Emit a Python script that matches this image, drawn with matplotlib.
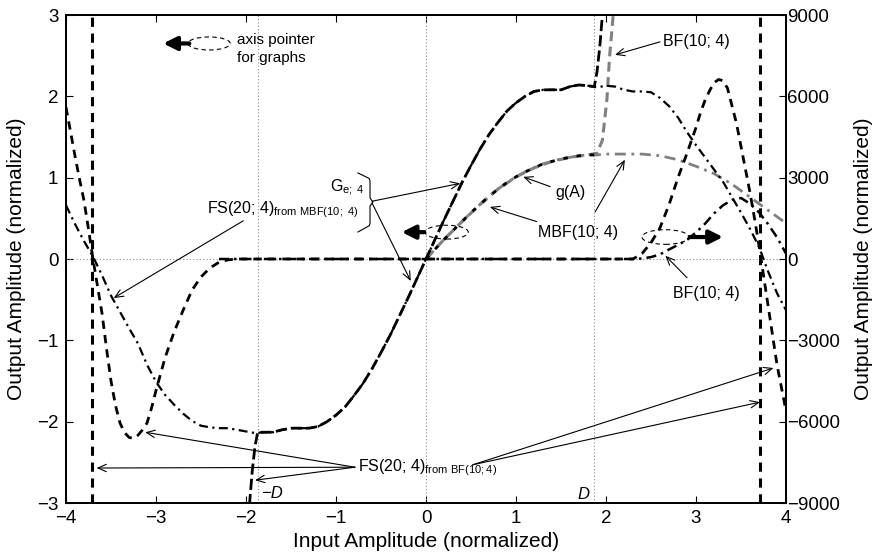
import matplotlib
matplotlib.use("Agg")
import matplotlib.pyplot as plt
from matplotlib.patches import Ellipse

plt.rcParams['font.family'] = ['Liberation Sans', 'DejaVu Sans']
plt.rcParams['mathtext.fontset'] = 'custom'
plt.rcParams['mathtext.rm'] = 'Liberation Sans'
plt.rcParams['mathtext.it'] = 'Liberation Sans:italic'

D = 1.87
asym_x = [-3.71, 3.71]

# G_e;4 (left axis)
ge_x = [-1.99, -1.96, -1.93, -1.90, -1.87, -1.8, -1.7, -1.6, -1.5, -1.4, -1.3, -1.2, -1.1,
        -1.0, -0.9, -0.8, -0.7, -0.6, -0.5, -0.4, -0.3, -0.2, -0.1, 0.0,
        0.1, 0.2, 0.3, 0.4, 0.5, 0.6, 0.7, 0.8, 0.9, 1.0, 1.1, 1.2, 1.3, 1.4, 1.5,
        1.6, 1.7, 1.8, 1.87, 1.90, 1.93, 1.96, 1.99]
ge_y = [-3.4, -3.0, -2.6, -2.3, -2.13, -2.13, -2.13, -2.1, -2.08, -2.08, -2.08, -2.06, -2.0,
        -1.92, -1.82, -1.68, -1.53, -1.35, -1.15, -0.94, -0.71, -0.48, -0.24, 0.0,
        0.24, 0.48, 0.71, 0.94, 1.15, 1.35, 1.53, 1.68, 1.82, 1.92, 2.0, 2.06, 2.08, 2.08, 2.08,
        2.12, 2.14, 2.13, 2.12, 2.3, 2.6, 3.0, 3.4]

# FS(20;4) from MBF(10;4) (left axis)
fsm_x = [-4.0, -3.9, -3.8, -3.7, -3.6, -3.5, -3.4, -3.3, -3.2, -3.1, -3.0, -2.9, -2.8, -2.7,
         -2.6, -2.5, -2.4, -2.3, -2.2, -2.1, -2.0, -1.9, -1.8, -1.7, -1.6, -1.5, -1.4, -1.3,
         -1.2, -1.1, -1.0, -0.9, -0.8, -0.7, -0.6, -0.5, -0.4, -0.3, -0.2, -0.1, 0.0,
         0.1, 0.2, 0.3, 0.4, 0.5, 0.6, 0.7, 0.8, 0.9, 1.0, 1.1, 1.2, 1.3, 1.4, 1.5, 1.6,
         1.7, 1.8, 1.9, 2.0, 2.1, 2.2, 2.3, 2.4, 2.5, 2.6, 2.7, 2.8, 2.9, 3.0, 3.1, 3.2,
         3.3, 3.4, 3.5, 3.6, 3.7, 3.8, 3.9, 4.0]
fsm_y = [0.66, 0.43, 0.22, 0.03, -0.2, -0.45, -0.65, -0.85, -1.04, -1.3, -1.51, -1.67, -1.79, -1.9,
         -1.99, -2.05, -2.07, -2.08, -2.08, -2.1, -2.12, -2.14, -2.13, -2.13, -2.1, -2.08, -2.08, -2.08,
         -2.06, -2.0, -1.92, -1.82, -1.68, -1.53, -1.35, -1.15, -0.94, -0.71, -0.48, -0.24, 0.0,
         0.24, 0.48, 0.71, 0.94, 1.15, 1.35, 1.53, 1.68, 1.82, 1.92, 2.0, 2.06, 2.08, 2.08, 2.08, 2.12,
         2.14, 2.13, 2.11, 2.13, 2.12, 2.08, 2.06, 2.06, 2.05, 1.98, 1.88, 1.74, 1.56, 1.4, 1.25, 1.1,
         0.95, 0.76, 0.57, 0.37, 0.15, -0.15, -0.42, -0.63]

# g(A) (left axis)
g_x = [0.0, 0.1, 0.2, 0.3, 0.4, 0.5, 0.6, 0.7, 0.8, 0.9, 1.0, 1.1, 1.2, 1.3, 1.4, 1.5,
       1.6, 1.7, 1.8, 1.87]
g_y = [0.0, 0.12, 0.24, 0.35, 0.46, 0.57, 0.67, 0.77, 0.86, 0.94, 1.01, 1.07, 1.12, 1.17, 1.2, 1.23,
       1.25, 1.27, 1.28, 1.28]

# MBF(10;4) (left axis)
mbf_x = [0.0, 0.1, 0.2, 0.3, 0.4, 0.5, 0.6, 0.7, 0.8, 0.9, 1.0, 1.1, 1.2, 1.3, 1.4, 1.5,
         1.6, 1.7, 1.8, 1.9, 2.0, 2.2, 2.4, 2.6, 2.8, 3.0, 3.2, 3.4, 3.6, 3.8, 4.0]
mbf_y = [0.0, 0.12, 0.24, 0.35, 0.46, 0.57, 0.67, 0.77, 0.86, 0.94, 1.01, 1.07, 1.12, 1.17, 1.2, 1.23,
         1.25, 1.27, 1.28, 1.28, 1.29, 1.29, 1.29, 1.27, 1.22, 1.14, 1.05, 0.92, 0.76, 0.6, 0.44]

# BF(10;4) (left axis)
bfl_x = [0.0, 0.2, 0.4, 0.6, 0.8, 1.0, 1.2, 1.4, 1.6, 1.8, 1.9, 1.96, 2.01, 2.04, 2.08, 2.12]
bfl_y = [0.0, 0.24, 0.46, 0.67, 0.86, 1.01, 1.12, 1.2, 1.25, 1.28, 1.3, 1.46, 1.96, 2.49, 3.0, 3.5]

# BF(10;4) (right axis)
bfr_x = [-2.3, -1.0, 0.0, 1.0, 2.3, 2.4, 2.5, 2.6, 2.7, 2.8, 2.9, 3.0, 3.1, 3.2, 3.3, 3.4,
         3.5, 3.6, 3.7, 3.8, 3.9, 4.0]
bfr_y = [0, 0, 0, 0, 0, 20, 70, 170, 350, 520, 700, 980, 1300, 1680, 1980, 2180,
         2250, 2040, 1720, 1290, 800, 200]

# FS(20;4) from BF(10;4) (right axis)
fsb_x = [-4.0, -3.95, -3.9, -3.85, -3.8, -3.75, -3.7, -3.65, -3.6, -3.55, -3.5, -3.45, -3.4,
         -3.35, -3.3, -3.25, -3.2, -3.15, -3.1, -3.05, -3.0, -2.9, -2.8, -2.7, -2.6, -2.5,
         -2.4, -2.3, -2.2, -2.1, 0.0, 2.3, 2.4, 2.5, 2.6, 2.7, 2.8, 2.9, 3.0, 3.05, 3.1,
         3.15, 3.2, 3.25, 3.3, 3.35, 3.4, 3.45, 3.5, 3.55, 3.6, 3.65, 3.7, 3.75, 3.8, 3.85,
         3.9, 3.95, 4.0]
fsb_y = [5600, 4700, 3800, 2950, 2150, 1100, 0, -1000, -2000, -3300, -4500, -5400, -6050,
         -6400, -6580, -6620, -6500, -6300, -6050, -5500, -4850, -3650, -2700, -1900, -1150, -660,
         -330, -120, -30, 0, 0, 0, 200, 600, 1150, 2000, 3000, 3900, 4850, 5400, 5850,
         6200, 6500, 6620, 6580, 6300, 5650, 5000, 4150, 3300, 2450, 1500, 500, -600, -1700, -2800,
         -3900, -4750, -5600]

fig = plt.figure(figsize=(8.77, 5.58), dpi=100)
ax = fig.add_axes([66 / 877, 55 / 558, 720 / 877, 488 / 558])
ax2 = ax.twinx()

ax.set_xlim(-4, 4)
ax.set_ylim(-3, 3)
ax2.set_ylim(-9000, 9000)
ax.set_xticks(range(-4, 5))
ax.set_yticks(range(-3, 4))
ax2.set_yticks(range(-9000, 9001, 3000))
ax.tick_params(axis='x', direction='in', top=True, length=5, width=0.8, labelsize=13.5, pad=5)
ax.tick_params(axis='y', direction='in', right=False, length=5, width=0.8, labelsize=13.5, pad=5.5)
ax2.tick_params(direction='in', length=5, width=0.8, labelsize=13.5, pad=1)
for a in (ax, ax2):
    for s in a.spines.values():
        s.set_linewidth(1.3)

# reference lines
dot = dict(color='0.55', ls=(0, (1, 2)), lw=0.8)
for xv in (-D, 0, D):
    ax.axvline(xv, **dot)
ax.axhline(0, **dot)

# left-axis curves
ax.plot(bfl_x, bfl_y, color='0.5', lw=2.2, dashes=(3.2, 1.8))
ax.plot(mbf_x, mbf_y, color='0.5', lw=2.0, dashes=(4, 2, 1, 2))
ax.plot(g_x, g_y, color='k', lw=2.0, dashes=(1.6, 3.2))
ax.plot(fsm_x, fsm_y, color='k', lw=1.6, dashes=(4, 2, 1, 2))
ax.plot(ge_x, ge_y, color='k', lw=2.0, dashes=(4, 1.5))

# right-axis curves
ax2.plot(bfr_x, bfr_y, color='k', lw=1.8, dashes=(4, 2, 1, 2))
ax2.plot(fsb_x, fsb_y, color='k', lw=2.0, dashes=(3, 2.2))
for xv in asym_x:
    ax2.axvline(xv, color='k', lw=2.2, dashes=(3, 2.2))

# axis pointers
thick = dict(arrowstyle='-|>,head_length=0.8,head_width=0.4', lw=3, color='k',
             mutation_scale=10, shrinkA=0, shrinkB=0)
for (cx, cy, w, h), (tx, hx) in [((-2.41, 2.65, 0.47, 0.16), (-2.63, -2.92)),
                                 ((0.23, 0.33, 0.48, 0.17), (-0.02, -0.27)),
                                 ((2.66, 0.27, 0.52, 0.18), (2.93, 3.3))]:
    ax2.add_patch(Ellipse((cx, cy * 3000), w, h * 3000, fill=False, ec='k', lw=0.8, ls=(0, (4, 3))))
    ax2.annotate('', xy=(hx, cy * 3000), xytext=(tx, cy * 3000), arrowprops=thick)

ax2.text(-2.1, 2.69 * 3000, 'axis pointer', fontsize=11, va='center', ha='left')
ax2.text(-2.1, 2.47 * 3000, 'for graphs', fontsize=11, va='center', ha='left')

thin = dict(arrowstyle='->,head_length=0.5,head_width=0.22', lw=0.8, color='k',
            mutation_scale=12, shrinkA=0, shrinkB=0)


def arrow(tail, head):
    ax2.annotate('', xy=(head[0], head[1] * 3000), xytext=(tail[0], tail[1] * 3000),
                 arrowprops=thin)


def label(x, y, s, **kw):
    ax2.text(x, y * 3000, s, fontsize=11.5, va='center', ha='left', **kw)


label(2.63, 2.67, 'BF(10; 4)')
arrow((2.6, 2.67), (2.1, 2.51))
label(1.44, 0.82, 'g(A)')
arrow((1.38, 0.89), (1.08, 1.01))
label(1.24, 0.33, 'MBF(10; 4)')
arrow((1.23, 0.46), (0.71, 0.64))
arrow((1.88, 0.58), (2.21, 1.22))
label(2.74, -0.42, 'BF(10; 4)')
arrow((2.9, -0.23), (2.66, 0.04))

# brace for G_e;4 / FS from MBF
ax2.plot([-0.756, -0.63, -0.622, -0.622, -0.589, -0.622, -0.622, -0.63, -0.756],
         [v * 3000 for v in [1.058, 0.99, 0.96, 0.75, 0.70, 0.652, 0.44, 0.41, 0.332]],
         color='k', lw=0.8)
label(-1.07, 0.87, r'G$_{\mathrm{e;\ 4}}$')
label(-2.43, 0.6, r'FS(20; 4)$_{\mathrm{from\ MBF(10;\ 4)}}$')
arrow((-0.6, 0.71), (0.38, 0.93))
arrow((-0.6, 0.69), (-0.17, -0.27))
arrow((-2.03, 0.47), (-3.47, -0.48))

label(-0.75, -2.57, r'FS(20; 4)$_{\mathrm{from\ BF(10;4)}}$')
for head in [(-3.12, -2.13), (-3.66, -2.57), (-1.9, -2.72)]:
    arrow((-0.79, -2.56), head)
for head in [(3.86, -1.34), (3.71, -1.76)]:
    arrow((0.52, -2.53), head)

ax2.text(-1.82, -2.88 * 3000, '\u2212D', fontsize=12, style='italic', va='center', ha='left')
ax2.text(1.68, -2.9 * 3000, 'D', fontsize=12, style='italic', va='center', ha='left')

ax.set_xlabel('Input Amplitude (normalized)', fontsize=15)
ax.set_ylabel('Output Amplitude (normalized)', fontsize=15)
ax2.set_ylabel('Output Amplitude (normalized)', fontsize=15)
ax.xaxis.set_label_coords(0.5, -0.059)
ax.yaxis.set_label_coords(-0.0556, 0.5)
ax2.yaxis.set_label_coords(1.095, 0.5)

fig.savefig('out.png', dpi=100)
